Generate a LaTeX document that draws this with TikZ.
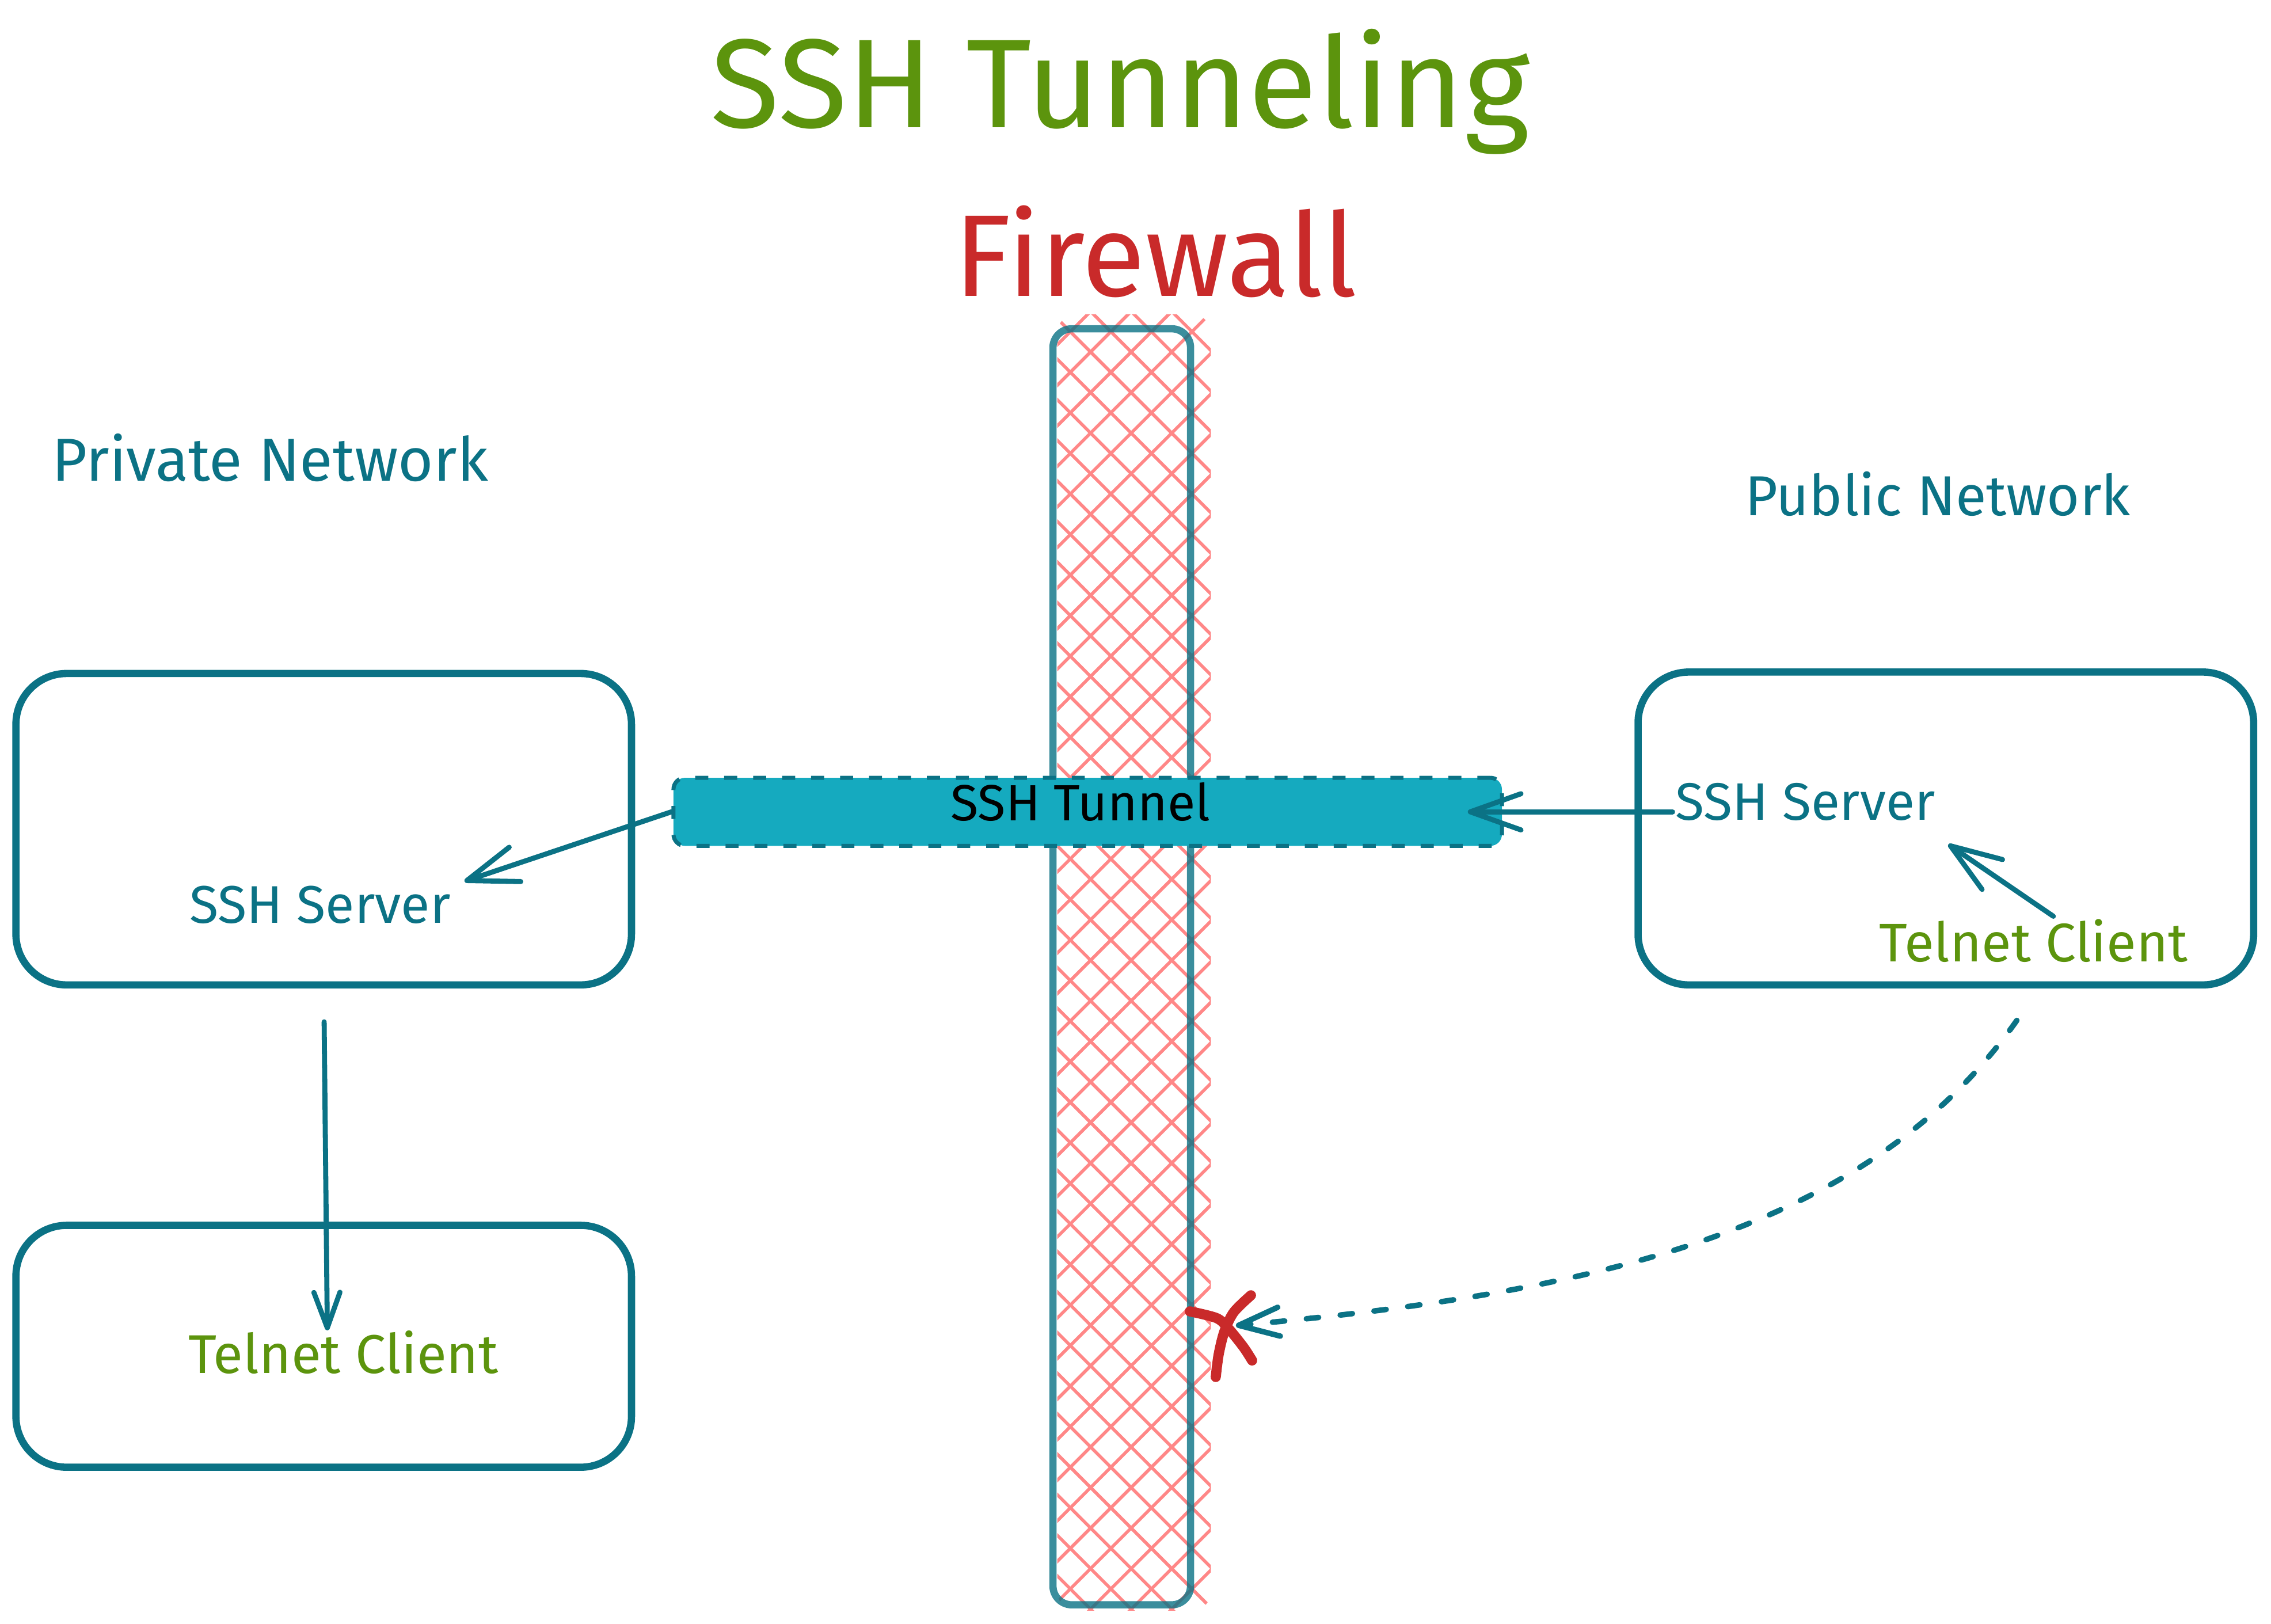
\documentclass[tikz,border=0pt]{standalone}
\usepackage{fontspec}
\setmainfont{Fira Sans}
\usepackage{graphicx}
\usetikzlibrary{arrows.meta}
\definecolor{teal9}{HTML}{0B7285}
\definecolor{lime9}{HTML}{5C940D}
\definecolor{red9}{HTML}{C92A2A}
\definecolor{hatchred}{HTML}{FF8787}
\definecolor{cyan6}{HTML}{15AABF}
\newcommand\fitw[2]{\resizebox{#1}{!}{#2}}
\begin{document}
\begin{tikzpicture}[x=1pt,y=-1pt,
  boxst/.style={draw=teal9, line width=5pt, rounded corners=35pt, inner sep=0pt},
  lbl/.style={inner sep=0pt, anchor=base},
  hatchst/.style={draw=hatchred, line width=2.2pt, line cap=round},
  arr/.style={draw=teal9, line width=3.5pt, line cap=round, -{Straight Barb[length=35pt,width=25pt,round]}},
  xmark/.style={draw=red9, line width=7pt, line cap=round, line join=round}]
\useasboundingbox[fill=white] (0,0) rectangle (1568,1121);

% firewall hatch
\begin{scope}
  \clip[rounded corners=13pt] (730,217) rectangle (836,1112);
  \foreach \c in {-650,-622,...,420} \draw[hatchst] (725,{725+\c}) -- (840,{840+\c});
  \foreach \c in {940,968,...,1990} \draw[hatchst] (725,{\c-725}) -- (840,{\c-840});
\end{scope}
\node[draw=teal9, draw opacity=0.8, line width=5pt, rounded corners=13pt, inner sep=0pt,
      minimum width=95pt, minimum height=881pt] (fw) at (774.5,667.5) {};

% boxes
\node[boxst, minimum width=425pt, minimum height=215pt] (box1) at (223.5,572.5) {};
\node[boxst, minimum width=425pt, minimum height=167pt] (box3) at (223.5,929.5) {};
\node[boxst, minimum width=425pt, minimum height=216pt] (box2) at (1343.5,572) {};

% tunnel
\node[fill=cyan6, draw=teal9, line width=2.8pt, dash pattern=on 9pt off 11pt, rounded corners=8pt,
      inner sep=0pt, minimum width=572pt, minimum height=47pt] (tunnel) at (751,560.5) {};
\node[lbl, text=black] (tuntxt) at (746,566.5) {\fitw{179pt}{SSH Tunnel}};

% texts
\node[lbl, text=lime9] (title) at (773.5,88) {\fitw{565pt}{SSH Tunneling}};
\node[lbl, text=red9] (fwtxt) at (798,204.5) {\fitw{278pt}{Firewall}};
\node[lbl, text=teal9] (priv) at (186.5,332) {\fitw{301pt}{Private Network}};
\node[lbl, text=teal9] (pub) at (1338,356) {\fitw{266pt}{Public Network}};
\node[lbl, text=teal9] (sshL) at (221,637.5) {\fitw{180pt}{SSH Server}};
\node[lbl, text=teal9] (sshR) at (1246.5,566) {\fitw{179pt}{SSH Server}};
\node[lbl, text=lime9] (telL) at (237,948) {\fitw{214pt}{Telnet Client}};
\node[lbl, text=lime9] (telR) at (1404,664) {\fitw{213pt}{Telnet Client}};

% connectors
\draw[arr] (tunnel.west) -- ([shift={(9.5,-29)}]sshL.base east);
\draw[arr, -{Straight Barb[length=24.5pt,width=18pt,round]}] ([shift={(0.3,23)}]box1.south) -- ([shift={(-11,-29.5)}]telL.base);
\draw[arr] ([shift={(-2,-5.5)}]sshR.base west) -- ([xshift=-25pt]tunnel.east);
\draw[arr] ([shift={(13.7,-31.4)}]telR.base) -- ([shift={(9,17)}]sshR.base east);

\coordinate (hit) at (853.3,915.2);
\draw[arr, line width=3.8pt, dash pattern=on 8.5pt off 15pt, -{Straight Barb[length=28pt,width=20pt,round]}]
  ([shift={(49,22)}]box2.south) .. controls (1290,850) and (1100,893) .. (hit);

% red X
\draw[xmark] plot[smooth] coordinates {(821.5,905.4) (839.9,910) (847.9,916.9) (858.5,930) (864.5,939.3)};
\draw[xmark] plot[smooth] coordinates {(863.7,894.3) (851.8,906) (845.3,919.4) (841.4,935.2) (839.4,950.7)};
\end{tikzpicture}
\end{document}
